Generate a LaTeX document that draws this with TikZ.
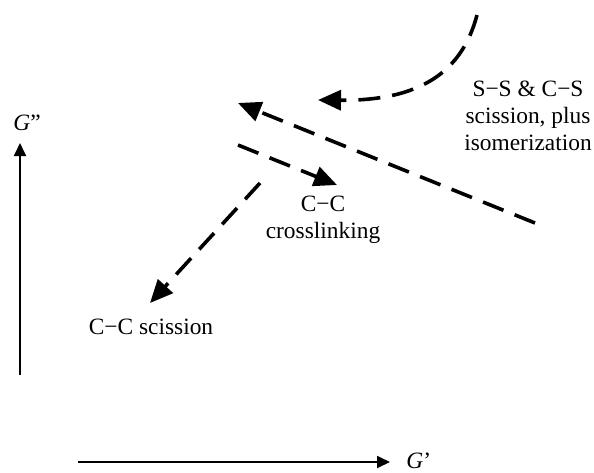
\documentclass[tikz,border=0pt]{standalone}
\usepackage{fontspec}
\setmainfont{Liberation Serif}
\usepackage{tikz}
\usetikzlibrary{arrows.meta, positioning}
\tikzset{
  axis line/.style={
    -{Triangle[length=6.5pt, width=6pt]},
    line width=0.9pt
  },
  path arrow/.style={
    -{Triangle[length=11.5pt, width=10pt]},
    line width=1.8pt,
    dash pattern=on 11pt off 6pt
  },
  path label/.style={
    align=center,
    font=\fontsize{11.7}{13.5}\selectfont,
    inner sep=0pt
  }
}
\begin{document}
\begin{tikzpicture}[x=0.5pt, y=-0.5pt]
  \useasboundingbox (0,0) rectangle (594,472);
  % axes
  \coordinate (yfoot) at (20,375);
  \coordinate (ytip) at (20,143);
  \coordinate (xfoot) at (78,462);
  \coordinate (xtip) at (390,462);
  \draw[axis line] (yfoot) -- (ytip);
  \draw[axis line] (xfoot) -- (xtip);
  \node[path label, anchor=base west] (gdd) at (13,130) {\textit{G}"};
  \node[path label, anchor=west] (gd) at (406,461) {\textit{G}'};

  % labels
  \node[path label] (sscs) at (528,116) {S−S \& C−S\\scission, plus\\isomerization};
  \node[path label] (cccross) at (323,220) {C−C\\crosslinking};
  \node[path label] (ccsc) at (151,327) {C−C scission};

  % arrows
  \coordinate (curvestart) at (477,15);
  \coordinate (curveend) at (318,100);
  \coordinate (longstart) at (535,223);
  \coordinate (longend) at (238,103);
  \coordinate (crossstart) at (238,145);
  \coordinate (crossend) at (337,185);
  \coordinate (scstart) at (260,183);
  \coordinate (scend) at (150,303);
  \draw[path arrow] (curvestart) .. controls (462,72) and (420,101) .. (curveend);
  \draw[path arrow] (longstart) -- (longend);
  \draw[path arrow] (crossstart) -- (crossend);
  \draw[path arrow] (scstart) -- (scend);
\end{tikzpicture}
\end{document}
